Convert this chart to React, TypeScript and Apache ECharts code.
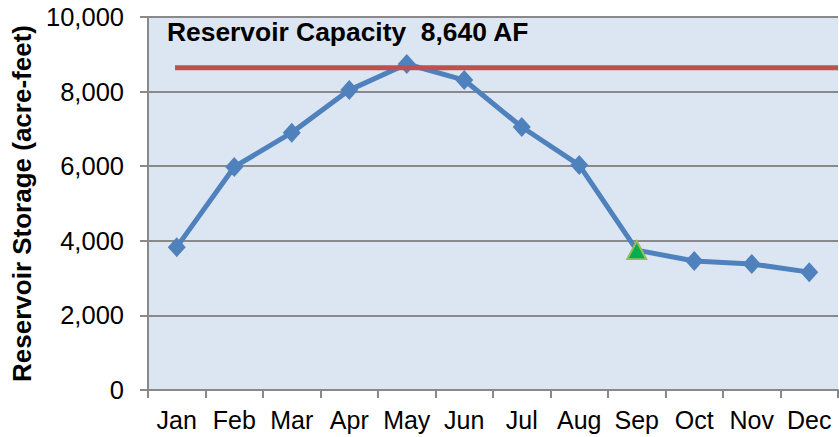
import React, { useEffect, useRef } from "react";
import * as echarts from "echarts";

const months = ["Jan", "Feb", "Mar", "Apr", "May", "Jun", "Jul", "Aug", "Sep", "Oct", "Nov", "Dec"];
const storage = [3830, 5980, 6900, 8040, 8740, 8310, 7050, 6030, 3750, 3460, 3380, 3160];
const capacity = 8640;
const capacityStartEnd = [0.47, 12];
const highlightMonth = "Sep";
const capacityLabel = "Reservoir Capacity  8,640 AF";

export default function App() {
  const ref = useRef<HTMLDivElement>(null);
  useEffect(() => {
    document.body.style.margin = "0";
    const chart = echarts.init(ref.current!, undefined, { renderer: "svg" });
    const font = "'Liberation Sans', Arial, sans-serif";
    const gridColor = "#898989";
    chart.setOption({
      animation: false,
      backgroundColor: "#ffffff",
      grid: {
        left: 148,
        top: 17,
        right: 1,
        bottom: 47,
        show: true,
        backgroundColor: "#DCE6F2",
        borderWidth: 0,
        containLabel: false,
        outerBoundsMode: "none",
      },
      graphic: [
        {
          type: "text",
          left: 167,
          top: 19,
          style: {
            text: capacityLabel,
            font: `bold 26.4px ${font}`,
            fill: "#000",
          },
          z: 10,
        },
      ],
      xAxis: [
        {
          type: "category",
          data: months,
          boundaryGap: true,
          axisLine: { lineStyle: { color: gridColor, width: 2 } },
          axisTick: { show: true, length: 8, interval: 0, lineStyle: { color: gridColor, width: 2 } },
          axisLabel: { color: "#000", fontFamily: font, fontSize: 25, margin: 17, interval: 0 },
          splitLine: { show: false },
        },
        {
          type: "value",
          min: 0,
          max: 12,
          show: false,
        },
      ],
      yAxis: {
        type: "value",
        min: 0,
        max: 10000,
        interval: 2000,
        name: "Reservoir Storage (acre-feet)",
        nameLocation: "middle",
        nameGap: 113,
        nameRotate: 90,
        nameTextStyle: { color: "#000", fontFamily: font, fontSize: 26, fontWeight: "bold" },
        axisLine: { show: true, lineStyle: { color: gridColor, width: 2 } },
        axisTick: { show: true, length: 8, lineStyle: { color: gridColor, width: 2 } },
        axisLabel: {
          color: "#000",
          fontFamily: font,
          fontSize: 25.5,
          margin: 24,
          formatter: (v: number) => v.toLocaleString("en-US"),
        },
        splitLine: { show: true, lineStyle: { color: gridColor, width: 2 } },
      },
      series: [
        {
          type: "line",
          xAxisIndex: 0,
          data: storage.map((v, i) =>
            months[i] === highlightMonth
              ? {
                  value: v,
                  symbol: "triangle",
                  symbolSize: [19, 18],
                  itemStyle: { color: "#00B050", borderColor: "#9BBB59", borderWidth: 2 },
                }
              : v
          ),
          symbol: "diamond",
          symbolSize: [18, 20],
          lineStyle: { color: "#4F81BD", width: 5 },
          itemStyle: { color: "#4F81BD" },
          z: 3,
        },
        {
          type: "line",
          xAxisIndex: 1,
          data: capacityStartEnd.map((x) => [x, capacity]),
          symbol: "none",
          lineStyle: { color: "#C0504D", width: 5 },
          z: 4,
        },
      ],
    });
    return () => chart.dispose();
  }, []);
  return <div ref={ref} style={{ width: 839, height: 437 }} />;
}
